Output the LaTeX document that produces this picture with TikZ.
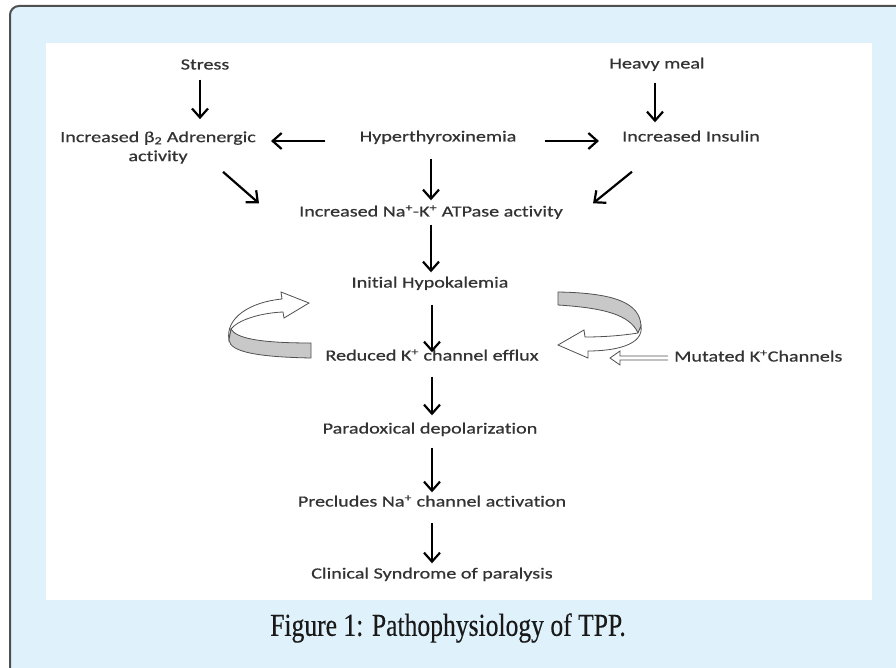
\documentclass[tikz,border=0pt]{standalone}
\usepackage{fontspec}
\setmainfont{Carlito}[FakeStretch=1.3, FakeBold=0.6, Ligatures=NoCommon]
\newfontfamily\capfont{Liberation Serif}[FakeStretch=0.8, FakeBold=0.3]
\usetikzlibrary{arrows.meta}

\definecolor{framebg}{HTML}{DFF1FB}
\definecolor{framegrey}{HTML}{505050}
\definecolor{txtgrey}{HTML}{333333}
\definecolor{ribgrey}{HTML}{C8C8C8}

\tikzset{
    box/.style={font=\fontsize{15.5}{19}\selectfont, text=txtgrey, inner sep=0pt,
                text height=11pt, text depth=4pt},
    twoline/.style={font=\fontsize{15.5}{19}\selectfont, text=txtgrey, inner sep=0pt, align=center},
    flow/.style={line width=2.2pt, -{Straight Barb[length=9pt, width=16pt]}},
    hollow/.style={draw=framegrey, line width=0.8pt, fill=white},
    ribback/.style={draw=framegrey, line width=0.8pt, fill=ribgrey},
    ribfront/.style={draw=framegrey, line width=0.8pt, fill=white},
}

\begin{document}
\begin{tikzpicture}[x=1pt, y=-1pt]

    \clip (0,0) rectangle (896,668);
    \fill[white] (0,0) rectangle (896,668);
    \draw[line width=2pt, draw=framegrey, fill=framebg, rounded corners=9pt] (10,6) rectangle (920,700);
    \fill[white] (46,43) rectangle (872,600);

    % causes
    \node[box] (stress) at (205,66) {Stress};
    \node[box] (meal) at (657,65) {Heavy meal};
    \node[twoline] (beta) at (158,147.5) {Increased β\textsubscript{2} Adrenergic\\activity};
    \node[box] (hyper) at (438,138) {Hyperthyroxinemia};
    \node[box] (insulin) at (691,138) {Increased Insulin};

    % main chain
    \node[box] (atpase) at (431,213) {Increased Na\textsuperscript{+}-K\textsuperscript{+} ATPase activity};
    \node[box] (hypok) at (430,284) {Initial Hypokalemia};
    \node[box] (reduced) at (432,357) {Reduced K\textsuperscript{+} channel efflux};
    \node[box] (parad) at (430,430) {Paradoxical depolarization};
    \node[box] (preclud) at (432,503) {Precludes Na\textsuperscript{+} channel activation};
    \node[box] (clinical) at (432,575) {Clinical Syndrome of paralysis};
    \node[box, anchor=west] (mutated) at (674,358) {Mutated K\textsuperscript{+}Channels};

    \node[font=\capfont\fontsize{32}{36}\selectfont, text=black!90] (caption) at (448,628) {Figure 1: Pathophysiology of TPP.};

    % arrows
    \draw[flow, shorten <=6pt, shorten >=12pt] ([xshift=-5pt]stress.south) -- ([xshift=-5pt]stress.south |- beta.north);
    \draw[flow, shorten <=10pt, shorten >=8pt] ([xshift=-2pt]meal.south) -- ([xshift=-2pt]meal.south |- insulin.north);
    \draw[flow, shorten <=34pt, shorten >=15pt] ([yshift=-3pt]hyper.west) -- ([yshift=-3pt]beta.east |- hyper.west);
    \draw[flow, shorten <=28pt, shorten >=23pt] ([yshift=-3pt]hyper.east) -- ([yshift=-3pt]insulin.west);
    \draw[flow, shorten <=13pt, shorten >=5pt] (atpase |- hyper.south) -- (atpase.north);
    \draw[flow] ([xshift=65pt, yshift=-8pt]beta.south) -- ([xshift=-40pt, yshift=2pt]atpase.north west);
    \draw[flow] ([xshift=-59pt, yshift=-26pt]insulin.south) -- ([xshift=30pt, yshift=2pt]atpase.north east);

    \draw[flow, shorten <=4pt, shorten >=4pt] (atpase.south) -- (atpase.south |- hypok.north);
    \draw[flow, shorten <=13pt, shorten >=-3pt] (reduced.north |- hypok.south) -- (reduced.north);
    \draw[flow, shorten <=12pt, shorten >=7pt] (reduced.south) -- (reduced.south |- parad.north);
    \draw[flow, shorten <=10pt, shorten >=3pt] (reduced.south |- parad.south) -- (preclud.north);
    \draw[flow, shorten <=12pt, shorten >=4pt] (preclud.south) -- (preclud.south |- clinical.north);

    % mutated channels
    \coordinate (mutend) at (610,358);
    \draw[hollow] ([xshift=-6pt, yshift=2pt]mutated.west) -- ([xshift=10pt, yshift=2pt]mutend)
        -- ([xshift=10pt, yshift=7pt]mutend) -- (mutend) -- ([xshift=10pt, yshift=-7pt]mutend)
        -- ([xshift=10pt, yshift=-2pt]mutend) -- ([xshift=-6pt, yshift=-2pt]mutated.west);

    % left loop
    \draw[ribfront] (229,340) .. controls (225,318) and (250,302) .. (282,299) -- (281,292) -- (309,303)
        -- (284,318) -- (283,312) .. controls (260,313) and (238,320) .. (231,329) -- cycle;
    \draw[ribback] (231,329) .. controls (236,338) and (258,343) .. (311,343) -- (311,358)
        .. controls (258,357) and (230,352) .. (229,340) -- cycle;

    % right loop
    \draw[ribback] (558,292) .. controls (615,293) and (640,303) .. (641,326) -- (638,333)
        .. controls (630,315) and (605,308) .. (558,305) -- cycle;
    \draw[ribfront] (641,326) .. controls (644,345) and (615,351) .. (588,351) -- (588,358) -- (558,345)
        -- (584,330) -- (585,337) .. controls (612,337) and (632,334) .. (638,333) -- cycle;

\end{tikzpicture}
\end{document}
